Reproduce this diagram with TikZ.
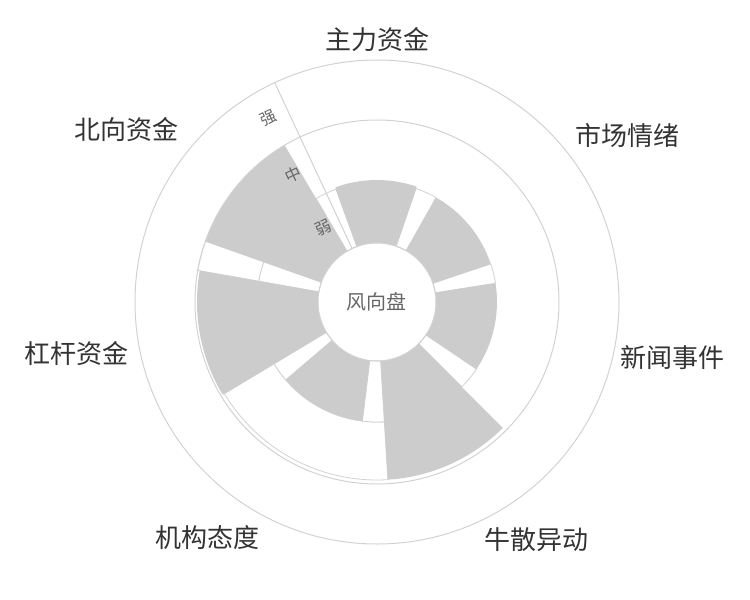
\documentclass[tikz,border=0pt]{standalone}
\usepackage{fontspec}
\setmainfont{Noto Sans CJK SC}
\definecolor{barg}{HTML}{CCCCCC}
\definecolor{linec}{HTML}{D2D2D2}
\definecolor{txt}{HTML}{333333}
\definecolor{txtl}{HTML}{666666}
\newcommand\sectr[5]{\path[#5] (#1:#3pt) -- (#1:#4pt) arc[start angle=#1,end angle=#2,radius=#4pt] -- (#2:#3pt) arc[start angle=#2,end angle=#1,radius=#3pt] -- cycle;}
\tikzset{
  gbar/.style={fill=barg},
  wbar/.style={fill=white,draw=linec,line width=0.8pt},
  ring/.style={draw=linec,line width=1pt},
  cat/.style={text=txt,font=\fontsize{26}{30}\selectfont},
  tick/.style={text=txtl,font=\fontsize{16}{18}\selectfont,rotate=25}
}
\begin{document}
\begin{tikzpicture}
\useasboundingbox (-377pt,-298pt) rectangle (373pt,302pt);
% white outlined bars
\sectr{-86.5}{-149}{120}{178}{wbar}
\sectr{170}{160.5}{120}{182}{wbar}
\sectr{120.5}{110}{59}{120}{wbar}
\sectr{71}{60.5}{59}{120}{wbar}
\sectr{18.5}{9}{59}{120}{wbar}
\sectr{-34}{-45}{59}{120}{wbar}
\sectr{-86.5}{-97}{59}{120}{wbar}
\sectr{-139.5}{-149}{59}{120}{wbar}
\sectr{170}{160.5}{59}{120}{wbar}
% gray bars
\sectr{110}{71}{59}{122}{gbar}
\sectr{60.5}{18.5}{59}{120}{gbar}
\sectr{9}{-34}{59}{120}{gbar}
\sectr{-45}{-86.5}{59}{178}{gbar}
\sectr{-97}{-139.5}{59}{120}{gbar}
\sectr{-149}{-190}{59}{180}{gbar}
\sectr{160.5}{120.5}{59}{182}{gbar}
% rings and axis
\draw[ring] (0,0) circle[radius=59pt];
\draw[ring] (0,0) circle[radius=182pt];
\draw[ring] (0,0) circle[radius=242pt];
\coordinate (ax0) at (115:59pt);
\coordinate (ax1) at (115:242pt);
\draw[ring] (ax0) -- (ax1);
% labels
\node[text=txtl,font=\fontsize{20}{24}\selectfont] (ctr) at (0,0) {风向盘};
\node[tick] (t1) at (-54pt,74pt) {弱};
\node[tick] (t2) at (-84pt,127pt) {中};
\node[tick] (t3) at (-109pt,184pt) {强};
\node[cat] (c1) at (1pt,262pt) {主力资金};
\node[cat] (c2) at (250pt,166pt) {市场情绪};
\node[cat] (c3) at (295pt,-56pt) {新闻事件};
\node[cat] (c4) at (159pt,-238pt) {牛散异动};
\node[cat] (c5) at (-169pt,-236pt) {机构态度};
\node[cat] (c6) at (-300pt,-52pt) {杠杆资金};
\node[cat] (c7) at (-250pt,172pt) {北向资金};
\end{tikzpicture}
\end{document}
